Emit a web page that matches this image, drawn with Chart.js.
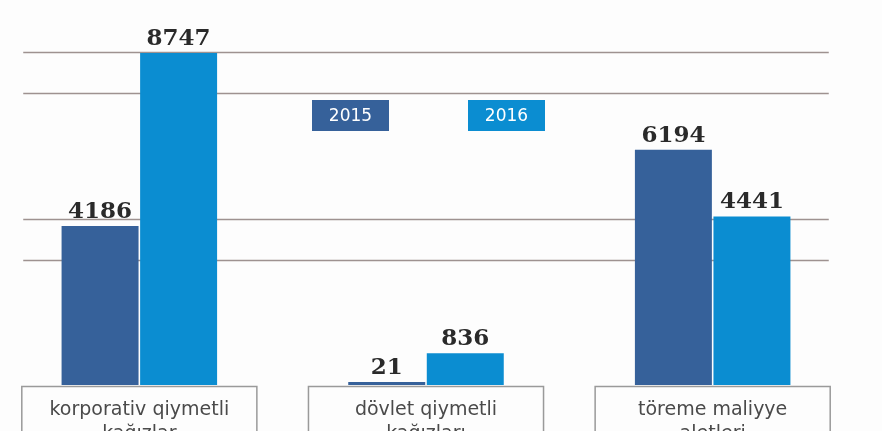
<!DOCTYPE html>
<html>
<head>
<meta charset="utf-8">
<script src="https://cdn.jsdelivr.net/npm/chart.js@4.4.0/dist/chart.umd.min.js"></script>
<style>
  html, body { margin: 0; padding: 0; background: #fdfdfd; overflow: hidden; }
  #wrap { position: absolute; left: -4px; top: 0; width: 860px; height: 431px; }
</style>
</head>
<body>
<div id="wrap"><canvas id="barChart"></canvas></div>
<script>
// categories (two lines each, second one is cut by the bottom edge)
const categories = [
    ['korporativ qiymetli', 'kağızlar'],
    ['dövlet qiymetli', 'kağızları'],
    ['töreme maliyye', 'aletleri']
];
const seriesNames = ['2015', '2016'];
const values2015 = [4186, 21, 6194];
const values2016 = [8747, 836, 4441];
const colors = ['#36619a', '#0b8dd1'];
// decorative horizontal rules (value units)
const gridValues = [8770, 7690, 4370, 3290];

const decor = {
    id: 'decor',
    beforeDatasetsDraw(chart) {
        const c = chart.ctx, x = chart.scales.x, y = chart.scales.y;
        const cw = x.getPixelForValue(1) - x.getPixelForValue(0);
        const left = x.getPixelForValue(0) - cw * 0.405;
        const right = x.getPixelForValue(categories.length - 1) + cw * 0.405;
        c.save();
        c.strokeStyle = '#9e9290';
        c.lineWidth = 1.5;
        gridValues.forEach(v => {
            const py = Math.round(y.getPixelForValue(v)) + 0.5;
            c.beginPath();
            c.moveTo(left, py);
            c.lineTo(right, py);
            c.stroke();
        });
        c.restore();
    },
    afterDatasetsDraw(chart) {
        const c = chart.ctx, x = chart.scales.x, y = chart.scales.y;
        const cw = x.getPixelForValue(1) - x.getPixelForValue(0);
        const base = y.getPixelForValue(0) + 1.5;
        const h = chart.height;
        c.save();
        // category brackets + labels
        categories.forEach((lines, i) => {
            const cx = x.getPixelForValue(i);
            const l = cx - cw * 0.41, r = cx + cw * 0.41;
            c.strokeStyle = '#9a9a9a';
            c.lineWidth = 1.5;
            c.beginPath();
            c.moveTo(l, h + 2);
            c.lineTo(l, base);
            c.lineTo(r, base);
            c.lineTo(r, h + 2);
            c.stroke();
            c.fillStyle = '#4a4a4a';
            c.font = '19px "DejaVu Sans"';
            c.textAlign = 'center';
            c.textBaseline = 'alphabetic';
            lines.forEach((t, k) => c.fillText(t, cx, base + 28 + k * 24));
        });
        // value labels
        c.font = 'bold 23px "DejaVu Serif"';
        c.fillStyle = '#2a2a2a';
        c.textAlign = 'center';
        c.textBaseline = 'alphabetic';
        chart.data.datasets.forEach((ds, di) => {
            chart.getDatasetMeta(di).data.forEach((bar, i) => {
                c.fillText(String(ds.data[i]), bar.x, bar.y - 8);
            });
        });
        // legend boxes
        const legendX = [312, 468];
        seriesNames.forEach((name, i) => {
            const lx = legendX[i] + 4, ly = 100, w = 77, hh = 31;
            c.fillStyle = colors[i];
            c.fillRect(lx, ly, w, hh);
            c.fillStyle = '#ffffff';
            c.font = '17px "DejaVu Sans"';
            c.textBaseline = 'middle';
            c.fillText(name, lx + w / 2, ly + hh / 2 + 1);
        });
        c.restore();
    }
};

const ctx = document.getElementById('barChart').getContext('2d');
const barChart = new Chart(ctx, {
    type: 'bar',
    data: {
        labels: categories,
        datasets: [{
            label: seriesNames[0],
            data: values2015,
            backgroundColor: colors[0],
            categoryPercentage: 0.548,
            barPercentage: 0.98,
            minBarLength: 3
        }, {
            label: seriesNames[1],
            data: values2016,
            backgroundColor: colors[1],
            categoryPercentage: 0.548,
            barPercentage: 0.98,
            minBarLength: 3
        }]
    },
    options: {
        responsive: true,
        maintainAspectRatio: false,
        animation: false,
        layout: {
            padding: { top: 0, bottom: 46, left: 0, right: 0 }
        },
        scales: {
            x: {
                display: false
            },
            y: {
                display: false,
                min: 0,
                max: 10140
            }
        },
        plugins: {
            legend: { display: false },
            tooltip: { enabled: false }
        }
    },
    plugins: [decor]
});
</script>
</body>
</html>
